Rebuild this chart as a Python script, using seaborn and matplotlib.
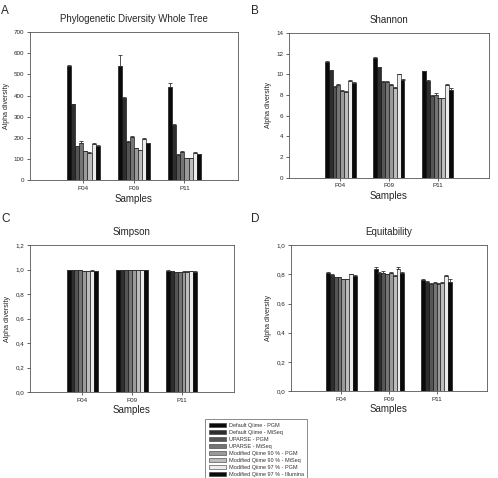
import numpy as np
import pandas as pd
import seaborn as sns
import matplotlib.pyplot as plt
from matplotlib.patches import Patch

# data
samples = ["P04", "P09", "P11"]
methods = ["Default Qiime - PGM", "Default Qiime - MiSeq", "UPARSE - PGM",
           "UPARSE - MiSeq", "Modified Qiime 90 % - PGM", "Modified Qiime 90 % - MiSeq",
           "Modified Qiime 97 % - PGM", "Modified Qiime 97 % - Illumina"]
colors = ["#0a0a0a", "#2e2e2e", "#555555", "#747474", "#9a9a9a", "#bdbdbd", "#ececec", "#0a0a0a"]

pd_vals = [[540, 358, 160, 178, 136, 130, 172, 162],
           [540, 390, 182, 204, 150, 142, 195, 175],
           [440, 262, 120, 133, 103, 103, 130, 123]]
pd_err = [[3, 3, 3, 5, 3, 3, 5, 3],
          [50, 3, 3, 5, 3, 3, 6, 3],
          [20, 3, 3, 5, 3, 3, 3, 3]]

shannon_vals = [[11.2, 10.4, 8.8, 9.0, 8.4, 8.3, 9.4, 9.2],
                [11.6, 10.7, 9.3, 9.3, 9.0, 8.7, 10.0, 9.5],
                [10.3, 9.4, 7.9, 8.0, 7.7, 7.7, 9.0, 8.5]]
shannon_err = [[0.05, 0.05, 0.05, 0.1, 0.05, 0.05, 0.1, 0.05],
               [0.05, 0.05, 0.05, 0.05, 0.05, 0.05, 0.05, 0.05],
               [0.05, 0.05, 0.1, 0.2, 0.05, 0.05, 0.05, 0.15]]

simpson_vals = [[0.998, 0.997, 0.995, 0.995, 0.99, 0.99, 0.993, 0.99],
                [0.999, 0.999, 0.996, 0.996, 0.995, 0.995, 0.997, 0.995],
                [0.992, 0.99, 0.982, 0.98, 0.983, 0.985, 0.99, 0.984]]
simpson_err = [[0.002] * 8, [0.002] * 8, [0.003] * 8]

equit_vals = [[0.81, 0.795, 0.78, 0.78, 0.765, 0.765, 0.80, 0.79],
              [0.84, 0.81, 0.81, 0.80, 0.81, 0.79, 0.84, 0.81],
              [0.76, 0.75, 0.735, 0.74, 0.735, 0.74, 0.79, 0.75]]
equit_err = [[0.005, 0.005, 0.005, 0.005, 0.005, 0.005, 0.005, 0.005],
             [0.01, 0.005, 0.01, 0.005, 0.005, 0.005, 0.01, 0.005],
             [0.005, 0.005, 0.005, 0.005, 0.005, 0.005, 0.005, 0.02]]

sns.set_style("ticks")
plt.rcParams['font.family'] = ['Liberation Sans', 'DejaVu Sans']
palette = dict(zip(methods, colors))


def draw_panel(ax, vals, errs, title, ymax, step, comma):
    """bars for one index, one-sided error bars on top"""
    rows = []
    for i, s in enumerate(samples):
        for j, m in enumerate(methods):
            rows.append({"sample": s, "method": m, "value": vals[i][j], "err": errs[i][j]})
    df = pd.DataFrame(rows)
    sns.barplot(data=df, x="sample", y="value", hue="method", hue_order=methods,
                palette=palette, width=0.64, errorbar=None, legend=False,
                edgecolor="black", linewidth=0.4, ax=ax)
    # error bars at the bar tops
    for j, m in enumerate(methods):
        cont = ax.containers[j]
        for i, bar in enumerate(cont):
            xc = bar.get_x() + bar.get_width() / 2
            ax.errorbar(xc, vals[i][j], yerr=[[0], [errs[i][j]]], fmt="none",
                        ecolor="#333333", elinewidth=0.6, capsize=1.3, capthick=0.6)
    ax.set_xlim(-1.06, 3.06)
    ax.set_ylim(0, ymax)
    ticks = np.arange(0, ymax + step / 2, step)
    ax.set_yticks(ticks)
    if comma:
        ax.set_yticklabels([f"{t:.1f}".replace(".", ",") for t in ticks])
    else:
        ax.set_yticklabels([f"{t:g}" for t in ticks])
    ax.set_title(title, fontsize=7, pad=7)
    ax.set_xlabel("Samples", fontsize=7, labelpad=2)
    ax.set_ylabel("Alpha diversity", fontsize=5, labelpad=3)
    ax.tick_params(labelsize=4.5, length=2, width=0.5, pad=2)
    for sp in ax.spines.values():
        sp.set_linewidth(0.6)
        sp.set_color("#555555")


fig = plt.figure(figsize=(4.98, 4.78), dpi=100)
axA = fig.add_axes([0.060, 0.623, 0.418, 0.310])
axB = fig.add_axes([0.580, 0.628, 0.402, 0.303])
axC = fig.add_axes([0.060, 0.180, 0.410, 0.307])
axD = fig.add_axes([0.584, 0.182, 0.394, 0.305])

draw_panel(axA, pd_vals, pd_err, "Phylogenetic Diversity Whole Tree", 700, 100, False)
draw_panel(axB, shannon_vals, shannon_err, "Shannon", 14, 2, False)
draw_panel(axC, simpson_vals, simpson_err, "Simpson", 1.2, 0.2, True)
draw_panel(axD, equit_vals, equit_err, "Equitability", 1.0, 0.2, True)

# panel letters
for lab, x, y in [("A", 0.002, 0.99), ("B", 0.505, 0.99), ("C", 0.002, 0.555), ("D", 0.505, 0.555)]:
    fig.text(x, y, lab, fontsize=8.5, va="top", ha="left")

# legend box below the panels
handles = [Patch(facecolor=c, edgecolor="#333333", linewidth=0.4) for c in colors]
leg = fig.legend(handles, methods, loc="lower left", bbox_to_anchor=(0.412, -0.004),
                 fontsize=4.0, frameon=True, fancybox=False, edgecolor="#555555",
                 handlelength=3.2, handleheight=0.8, labelspacing=0.35, borderpad=0.6,
                 handletextpad=0.5, borderaxespad=0)
leg.get_frame().set_linewidth(0.6)
for t in leg.get_texts():
    t.set_color("#333333")

plt.savefig("out.png", dpi=100)
